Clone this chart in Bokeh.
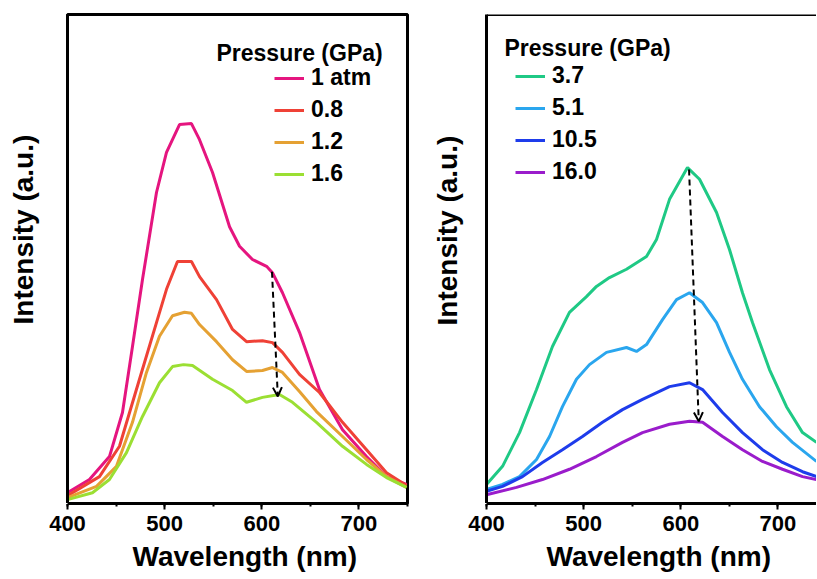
from bokeh.plotting import figure
from bokeh.layouts import row
from bokeh.models import (Legend, LegendItem, Label, Arrow, OpenHead, Span, Title,
                          SingleIntervalTicker, FixedTicker, Range1d)
from bokeh.embed import file_html
from bokeh.resources import INLINE

# ---------------- data (left panel, low pressure) ----------------
wl_1atm = [400, 422.6, 443.2, 456.6, 466.9, 477.2, 491.6, 501.9, 515.3, 527.6, 535.9, 549.3,
           566.8, 577.1, 590.4, 604.9, 611.0, 621.3, 638.8, 659.4, 683.1, 707.8, 728.4, 749]
int_1atm = [2.2, 4.9, 9.6, 18.6, 32.1, 45.8, 63.6, 71.8, 77.5, 77.7, 74.4, 67.7,
            56.6, 52.6, 49.9, 48.5, 47.2, 43.1, 35.0, 23.3, 15.1, 9.6, 5.5, 3.9]

wl_08 = [400, 432.9, 453.5, 474.1, 491.6, 501.9, 513.2, 527.6, 535.9, 553.4, 569.9, 584.3,
         600.7, 611.0, 621.3, 638.8, 659.4, 683.1, 707.8, 728.4, 749]
int_08 = [1.6, 5.5, 11.7, 25.4, 37.0, 43.8, 49.5, 49.5, 46.4, 41.7, 35.6, 33.1,
          33.3, 32.9, 30.9, 26.4, 22.7, 16.6, 11.0, 6.3, 3.7]

wl_12 = [400, 429.9, 450.4, 466.9, 481.3, 494.7, 508.1, 520.4, 527.6, 535.9, 553.4, 569.9,
         584.3, 600.7, 611.0, 621.3, 638.8, 656.3, 683.1, 707.8, 728.4, 749]
int_12 = [1.2, 3.5, 7.6, 16.6, 26.8, 34.2, 38.4, 39.1, 38.9, 36.6, 33.1, 29.4,
          27.0, 27.2, 27.8, 26.8, 22.9, 18.8, 13.7, 9.0, 5.5, 3.3]

wl_16 = [400, 425.7, 443.2, 460.7, 477.2, 494.7, 508.1, 519.4, 528.7, 549.3, 569.9, 584.3,
         600.7, 618.2, 631.6, 656.3, 683.1, 707.8, 728.4, 749]
int_16 = [0.8, 2.2, 4.9, 10.4, 17.8, 24.7, 28.0, 28.4, 28.2, 25.4, 23.1, 20.7,
          21.7, 22.3, 20.7, 16.6, 11.7, 8.0, 5.3, 3.3]

# ---------------- data (right panel, high pressure) ----------------
wl_37 = [400, 416.5, 434.0, 451.5, 467.9, 485.4, 502.9, 513.2, 526.6, 544.1, 564.7, 575.0,
         588.4, 606.9, 619.3, 636.8, 650.2, 663.5, 673.8, 691.3, 708.8, 725.3, 739.7]
int_37 = [3.9, 7.6, 14.5, 23.3, 32.1, 39.1, 42.3, 44.4, 46.2, 47.9, 50.5, 54.0,
          62.2, 68.7, 66.3, 59.5, 51.9, 43.1, 37.0, 27.4, 19.8, 14.5, 12.5]

wl_51 = [400, 416.5, 434.0, 451.5, 464.9, 478.2, 492.6, 506.0, 523.5, 544.1, 554.4, 564.7,
         581.2, 595.6, 609.0, 622.4, 636.8, 650.2, 663.5, 681.0, 698.5, 715.0, 739.7]
int_51 = [2.9, 3.9, 5.5, 9.0, 13.7, 19.8, 25.4, 28.4, 30.9, 31.9, 31.1, 32.5,
          37.6, 41.7, 43.1, 41.1, 37.0, 30.9, 25.4, 19.8, 15.7, 12.5, 8.6]

wl_105 = [400, 416.5, 437.1, 457.6, 478.2, 498.8, 519.4, 540.0, 560.6, 588.4, 609.0, 622.4,
          643.0, 663.5, 684.1, 704.7, 725.3, 739.7]
int_105 = [2.5, 3.5, 5.5, 8.4, 11.0, 13.7, 16.6, 19.2, 21.3, 23.9, 24.7, 23.3,
           18.6, 14.5, 11.0, 8.4, 6.5, 5.5]

wl_160 = [400, 430.9, 457.6, 485.4, 513.2, 540.0, 560.6, 588.4, 609.0, 622.4, 643.0, 663.5,
          684.1, 704.7, 725.3, 739.7]
int_160 = [1.8, 3.3, 4.9, 7.0, 9.6, 12.5, 14.5, 16.2, 16.8, 16.6, 13.7, 11.0,
           8.6, 7.0, 5.5, 4.9]

left_labels = ["1 atm", "0.8", "1.2", "1.6"]
right_labels = ["3.7", "5.1", "10.5", "16.0"]
left_colors = ["#E5157F", "#EF4136", "#E5A133", "#9BDF33"]
right_colors = ["#1FC985", "#2AA6EE", "#1E3CEB", "#9A1CCB"]

# arrows (start wavelength, start intensity, end wavelength, end intensity)
left_arrow = (610.5, 47.4, 616.5, 21.9)
right_arrow = (608.5, 68.3, 618.5, 16.8)

FONT = "Liberation Sans"


def style(p, outline, y_pad):
    p.xgrid.visible = False
    p.ygrid.visible = False
    p.background_fill_color = "white"
    p.border_fill_color = "white"
    if outline:
        p.outline_line_color = "black"
        p.outline_line_width = 3
        p.outline_line_alpha = 1.0
    else:
        p.outline_line_color = None
    xa = p.xaxis[0]
    xa.ticker = SingleIntervalTicker(interval=100, num_minor_ticks=2)
    xa.axis_line_width = 3
    xa.major_tick_line_width = 2
    xa.minor_tick_line_width = 2
    xa.major_tick_out = 6
    xa.major_tick_in = 0
    xa.minor_tick_out = 3
    xa.minor_tick_in = 0
    xa.major_label_standoff = 6
    xa.major_label_text_font = FONT
    xa.major_label_text_font_style = "bold"
    xa.major_label_text_font_size = "22px"
    xa.major_label_text_color = "black"
    # y axis: no visible ticks or labels; one blank tick only reserves room
    ya = p.yaxis[0]
    ya.ticker = FixedTicker(ticks=[0])
    ya.major_label_overrides = {0: ""}
    ya.axis_line_width = 3
    ya.major_tick_line_color = "white"
    ya.major_tick_line_width = 1
    ya.minor_tick_line_color = None
    ya.major_tick_in = 0
    ya.major_tick_out = y_pad
    ya.minor_tick_out = 0
    ya.major_label_standoff = 0
    ya.major_label_text_font_size = "1px"


def add_texts(p, x_offset, y_offset, y_standoff, title_x, title_y):
    p.add_layout(Title(text="Wavelength (nm)", align="left", offset=x_offset, standoff=10,
                       vertical_align="bottom",
                       text_font=FONT, text_font_style="bold", text_font_size="28px",
                       text_color="black"), "below")
    p.add_layout(Title(text="Intensity (a.u.)", align="left", offset=y_offset,
                       vertical_align="bottom",
                       standoff=y_standoff, text_font=FONT, text_font_style="bold",
                       text_font_size="28px", text_color="black"), "left")
    p.add_layout(Label(x=title_x, y=title_y, x_units="screen", y_units="screen",
                       text="Pressure (GPa)", text_font=FONT, text_font_style="bold",
                       text_font_size="23px", text_align="left",
                       text_baseline="alphabetic", text_color="black"))


def make_legend(items, loc):
    lg = Legend(items=items, location=loc, orientation="vertical",
                label_text_font=FONT, label_text_font_style="bold",
                label_text_font_size="23px", label_text_color="black",
                glyph_width=30, glyph_height=22, label_height=22,
                label_standoff=7, spacing=5, padding=0, margin=0,
                border_line_color=None, background_fill_alpha=0)
    return lg


# ---------------- left figure ----------------
p1 = figure(width=410, height=578, output_backend="svg", toolbar_location=None,
            x_range=Range1d(400, 750), y_range=Range1d(0, 100),
            min_border_left=67, min_border_right=3, min_border_top=14, min_border_bottom=75)
style(p1, True, 25)
left_series = [(wl_1atm, int_1atm), (wl_08, int_08), (wl_12, int_12), (wl_16, int_16)]
r_left = []
for (xs, ys), c in zip(left_series, left_colors):
    r_left.append(p1.line(xs, ys, line_color=c, line_width=3))
p1.add_layout(Arrow(end=OpenHead(size=9, line_width=2, line_color="black"),
                    x_start=left_arrow[0], y_start=left_arrow[1],
                    x_end=left_arrow[2], y_end=left_arrow[3],
                    line_dash="6 4", line_width=2, line_color="black"))
p1.add_layout(make_legend([LegendItem(label=l, renderers=[r]) for l, r in zip(left_labels, r_left)],
                          (207, 316)))
add_texts(p1, 65, 179, 8, 149, 451)

# ---------------- right figure ----------------
p2 = figure(width=406, height=578, output_backend="svg", toolbar_location=None,
            x_range=Range1d(400, 739.7), y_range=Range1d(0, 100),
            min_border_left=76, min_border_right=0, min_border_top=14, min_border_bottom=75)
style(p2, False, 18)
p2.add_layout(Span(location=100, dimension="width", line_color="black", line_width=3))
right_series = [(wl_37, int_37), (wl_51, int_51), (wl_105, int_105), (wl_160, int_160)]
r_right = []
for (xs, ys), c in zip(right_series, right_colors):
    r_right.append(p2.line(xs, ys, line_color=c, line_width=3))
p2.add_layout(Arrow(end=OpenHead(size=9, line_width=2, line_color="black"),
                    x_start=right_arrow[0], y_start=right_arrow[1],
                    x_end=right_arrow[2], y_end=right_arrow[3],
                    line_dash="6 4", line_width=2, line_color="black"))
p2.add_layout(make_legend([LegendItem(label=l, renderers=[r]) for l, r in zip(right_labels, r_right)],
                          (29, 318)))
add_texts(p2, 60, 178, 12, 18, 456)

layout = row(p1, p2)
open("out.html", "w").write(file_html(layout, INLINE))
